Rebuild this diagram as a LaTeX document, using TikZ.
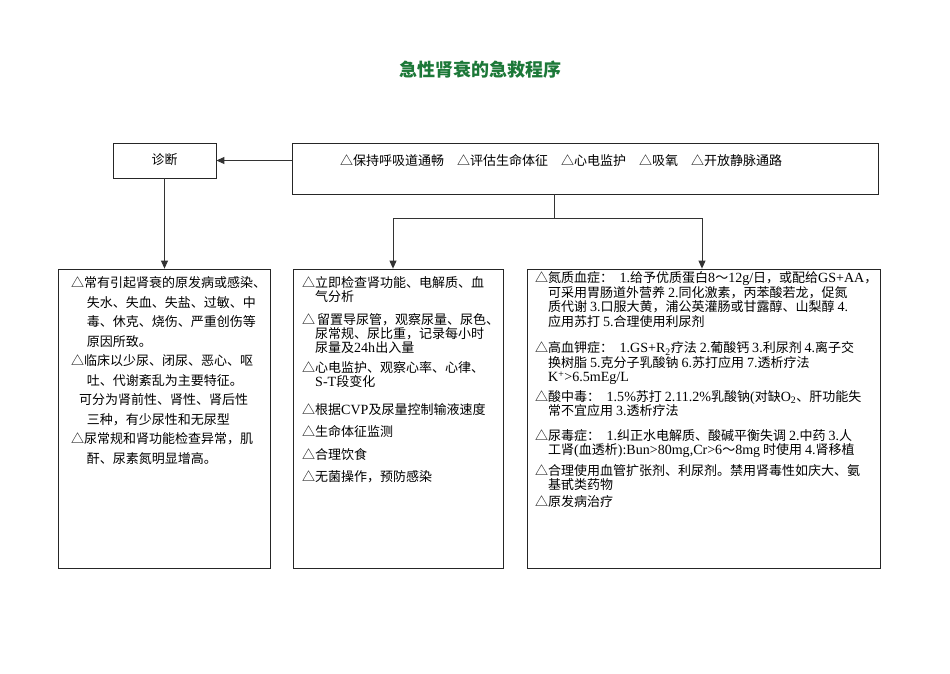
\documentclass[tikz,border=0pt]{standalone}
\usepackage{fontspec}
\setmainfont{Noto Sans CJK SC}
\newfontfamily\latinfont[Scale=1.08]{Liberation Serif}
\usepackage{tikz}
\usetikzlibrary{arrows.meta}
\definecolor{titlegreen}{RGB}{28,120,56}
\tikzset{>/.tip={Triangle[length=8pt,width=7pt]},
  box/.style={draw=black!85, line width=0.8pt, inner sep=0pt},
  link/.style={draw=black!80, line width=0.9pt},
  txt/.style={anchor=north west, inner sep=0pt, align=left}}
\newcommand{\ltn}[1]{{\latinfont #1}}

\begin{document}
\begin{tikzpicture}[x=1pt,y=-1pt]
\useasboundingbox (0,0) rectangle (950,673);
\node[font=\fontsize{18}{20}\selectfont\bfseries, text=titlegreen] (title) at (480,70) {急性肾衰的急救程序};

\node[box, minimum width=103, minimum height=35, font=\fontsize{13}{14}\selectfont] (diag) at (164.5,160.5) {\raisebox{2pt}{诊断}};
\node[box, minimum width=586, minimum height=51] (care) at (585,168.5) {};
\node[font=\fontsize{13}{14}\selectfont] (caretext) at (561,161) {△保持呼吸道通畅\hspace{1em}△评估生命体征\hspace{1em}△心电监护\hspace{1em}△吸氧\hspace{1em}△开放静脉通路};

\node[box, minimum width=212, minimum height=299] (cause) at (164,418.5) {};
\node[box, minimum width=210, minimum height=299] (check) at (398,418.5) {};
\node[box, minimum width=353, minimum height=299] (treat) at (703.5,418.5) {};

\node[txt, font=\fontsize{13}{19.5}\selectfont] (causetext) at (71,276.5) {%
△常有引起肾衰的原发病或感染、\\
\hspace*{1.2em}失水、失血、失盐、过敏、中\\
\hspace*{1.2em}毒、休克、烧伤、严重创伤等\\
\hspace*{1.2em}原因所致。\\
△临床以少尿、闭尿、恶心、呕\\
\hspace*{1.2em}吐、代谢紊乱为主要特征。\\
\hspace*{0.6em}可分为肾前性、肾性、肾后性\\
\hspace*{1.2em}三种，有少尿性和无尿型\\
△尿常规和肾功能检查异常，肌\\
\hspace*{1.2em}酐、尿素氮明显增高。};

\node[txt, font=\fontsize{13}{14}\selectfont] (checktext) at (302,276.5) {%
△立即检查肾功能、电解质、血\\
\hspace*{1em}气分析\\[9pt]
△\hspace{2pt}留置导尿管，观察尿量、尿色、\\
\hspace*{1em}尿常规、尿比重，记录每小时\\
\hspace*{1em}尿量及\ltn{24h}出入量\\[6pt]
△心电监护、观察心率、心律、\\
\hspace*{1em}\ltn{S-T}段变化\\[14pt]
△根据\ltn{CVP}及尿量控制输液速度\\[8pt]
△生命体征监测\\[9pt]
△合理饮食\\[8pt]
△无菌操作，预防感染};

\node[txt, font=\fontsize{13}{14.5}\selectfont] (treattext) at (535,271.5) {%
△氮质血症：\hspace{0.5em}\ltn{1.}给予优质蛋白\ltn{8}～\ltn{12g/}日，或配给\ltn{GS+AA}，\\
\hspace*{1em}可采用胃肠道外营养 \ltn{2.}同化激素，丙苯酸若龙，促氮\\
\hspace*{1em}质代谢 \ltn{3.}口服大黄，浦公英灌肠或甘露醇、山梨醇 \ltn{4.}\\
\hspace*{1em}应用苏打 \ltn{5.}合理使用利尿剂\\[12pt]
△高血钾症：\hspace{0.5em}\ltn{1.GS+R\textsubscript{2}}疗法 \ltn{2.}葡酸钙 \ltn{3.}利尿剂 \ltn{4.}离子交\\
\hspace*{1em}换树脂 \ltn{5.}克分子乳酸钠 \ltn{6.}苏打应用 \ltn{7.}透析疗法\\
\hspace*{1em}\ltn{K\textsuperscript{+}>6.5mEg/L}\\[5pt]
△酸中毒：\hspace{0.5em}\ltn{1.5\%}苏打 \ltn{2.11.2\%}乳酸钠\ltn{(}对缺\ltn{O\textsubscript{2}}、肝功能失\\
\hspace*{1em}常不宜应用 \ltn{3.}透析疗法\\[10pt]
△尿毒症：\hspace{0.5em}\ltn{1.}纠正水电解质、酸碱平衡失调 \ltn{2.}中药 \ltn{3.}人\\
\hspace*{1em}工肾\ltn{(}血透析\ltn{):Bun>80mg,Cr>6}～\ltn{8mg} 时使用 \ltn{4.}肾移植\\[6pt]
△合理使用血管扩张剂、利尿剂。禁用肾毒性如庆大、氨\\
\hspace*{1em}基甙类药物\\[2pt]
△原发病治疗};

\coordinate (fork) at (554,218);
\coordinate (forkl) at (393,218);
\coordinate (forkr) at (702,218);

\draw[->, link] (care.west |- diag) -- (diag.east);
\draw[->, link] (diag.south) -- (diag.south |- cause.north);
\draw[link] (fork |- care.south) -- (fork);
\draw[link] (forkl) -- (forkr);
\draw[->, link] (forkl) -- (forkl |- check.north);
\draw[->, link] (forkr) -- (forkr |- treat.north);
\end{tikzpicture}
\end{document}
